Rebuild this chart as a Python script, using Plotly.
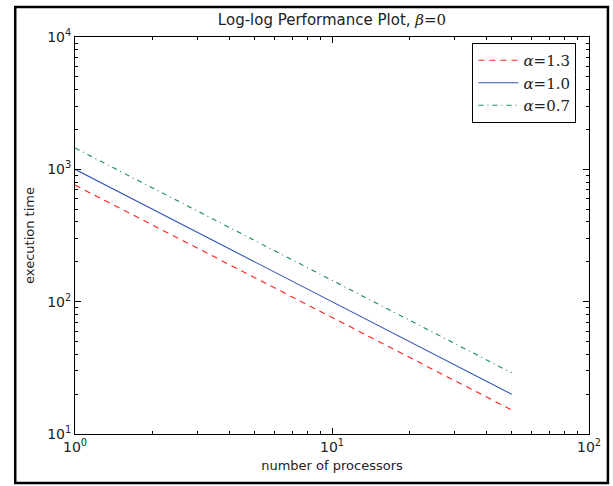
import plotly.graph_objects as go

processors = [1, 2, 5, 10, 20, 50]
t_alpha13 = [760, 380, 152, 76, 38, 15.2]
t_alpha10 = [1000, 500, 200, 100, 50, 20]
t_alpha07 = [1450, 725, 290, 145, 72.5, 29]
series_names = ["α=1.3", "α=1.0", "α=0.7"]
x_ticks = [1, 10, 100]
x_ticklabels = ["10<sup>0</sup>", "10<sup>1</sup>", "10<sup>2</sup>"]
y_ticks = [10, 100, 1000, 10000]
y_ticklabels = ["10<sup>1</sup>", "10<sup>2</sup>", "10<sup>3</sup>", "10<sup>4</sup>"]

W, H = 613, 486
L, R, T, B = 75, 22, 37, 52
pw, ph = W - L - R, H - T - B

serif = "DejaVu Serif"
def mlabel(a):
    return ('<span style="font-family:%s"><i>α</i>=%s</span>' % (serif, a))

fig = go.Figure()
styles = [("#ff2020", "6px,5px"), ("#3555b5", "solid"), ("#1e8a4c", "5px,4px,1px,4px")]
for vals, name, (c, d) in zip([t_alpha13, t_alpha10, t_alpha07], series_names, styles):
    fig.add_trace(go.Scatter(x=processors, y=vals, mode="lines",
                             name=mlabel(name.split("=")[1]),
                             line=dict(color=c, width=1.1, dash=d)))

minor_x = [v * m for v in [1, 10] for m in range(2, 10)]
minor_y = [v * m for v in [10, 100, 1000] for m in range(2, 10)]

axis_common = dict(type="log", showline=True, linecolor="black", linewidth=1,
                   mirror="allticks", ticks="inside", ticklen=6, tickcolor="black",
                   showgrid=False, zeroline=False,
                   tickfont=dict(family="DejaVu Sans", size=14, color="#222"))
fig.update_xaxes(**axis_common, range=[0, 2], tickvals=x_ticks, ticktext=x_ticklabels,
                 minor=dict(tickvals=minor_x, ticks="inside", ticklen=3, tickcolor="black"),
                 title=dict(text="number of processors", standoff=7,
                            font=dict(family="DejaVu Sans", size=13, color="#222")))
fig.update_yaxes(**axis_common, range=[1, 4], tickvals=y_ticks, ticktext=y_ticklabels,
                 minor=dict(tickvals=minor_y, ticks="inside", ticklen=3, tickcolor="black"),
                 title=dict(text="execution time", standoff=9,
                            font=dict(family="DejaVu Sans", size=13, color="#222")))

fx = lambda px: (px - L) / pw
fy = lambda py: (H - B - py) / ph
fig.add_shape(type="rect", xref="paper", yref="paper",
              x0=fx(15), x1=fx(610), y0=fy(483), y1=fy(7),
              line=dict(color="black", width=2.5), layer="below")

fig.update_layout(
    width=W, height=H, margin=dict(l=L, r=R, t=T, b=B),
    paper_bgcolor="white", plot_bgcolor="white",
    title=dict(text='Log-log Performance Plot, <span style="font-family:%s"><i>β</i>=0</span>' % serif,
               x=0.5, xref="paper", xanchor="center", y=1 - 20 / H, yanchor="middle",
               font=dict(family="DejaVu Sans", size=15, color="#222")),
    legend=dict(x=fx(474), y=fy(43), xanchor="left", yanchor="top",
                bordercolor="black", borderwidth=1, bgcolor="white",
                font=dict(size=15, color="#222"), tracegroupgap=2, itemwidth=40),
    showlegend=True,
)
fig.write_html("out.html", config={"displayModeBar": False},
               post_script="document.body.style.margin='0';document.body.style.overflow='hidden';")
